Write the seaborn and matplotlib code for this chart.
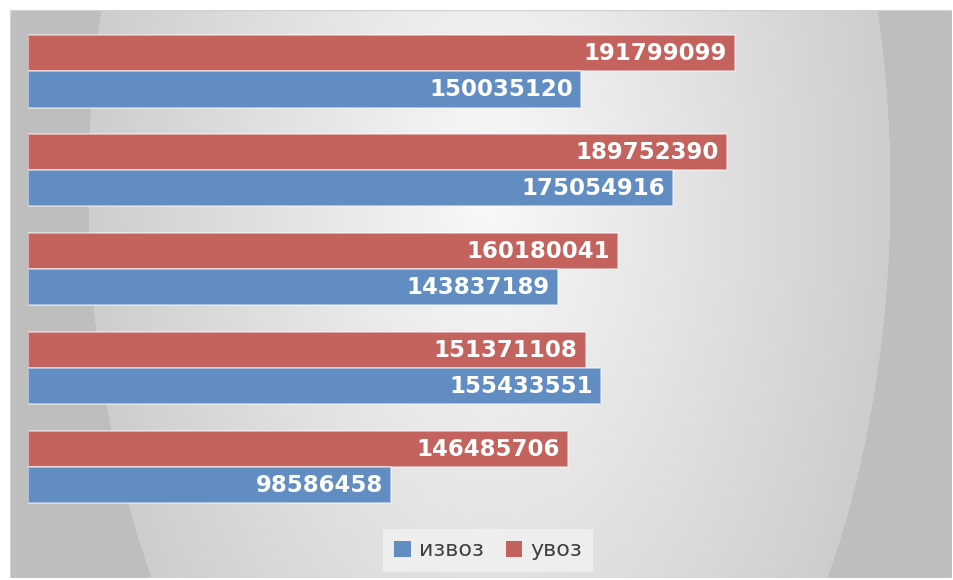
import numpy as np
import pandas as pd
import matplotlib
matplotlib.use("Agg")
import matplotlib.pyplot as plt
from matplotlib.patches import Patch, Rectangle
import seaborn as sns

# ---- data ----
categories = ["1", "2", "3", "4", "5"]
izvoz = [150035120, 175054916, 143837189, 155433551, 98586458]
uvoz = [191799099, 189752390, 160180041, 151371108, 146485706]
series_names = ["извоз", "увоз"]

df = pd.DataFrame({
    "cat": categories * 2,
    "value": izvoz + uvoz,
    "series": [series_names[0]] * len(categories) + [series_names[1]] * len(categories),
})

sns.set_theme(style="white")
plt.rcParams["font.family"] = ["DejaVu Sans"]

W, H = 954, 580
fig = plt.figure(figsize=(W / 100, H / 100), dpi=100, facecolor="white")

# ---- background panel with radial gradient ----
bx0, by0, bx1, by1 = 10, 10, 952, 578
bg = fig.add_axes([bx0 / W, 1 - by1 / H, (bx1 - bx0) / W, (by1 - by0) / H], zorder=-5)
nx, ny = bx1 - bx0, by1 - by0
xx, yy = np.meshgrid(np.arange(nx) + bx0, np.arange(ny) + by0)
cx, cy, a, b = 489, 190, 401, 720
d = np.sqrt(((xx - cx) / a) ** 2 + ((yy - cy) / b) ** 2)
v = np.where(d <= 1, 0.975 - 0.17 * d, 0.747)
img = np.dstack([v, v, v])
bg.imshow(img, aspect="auto", interpolation="bilinear")
bg.set_axis_off()
bg.add_patch(Rectangle((0, 0), 1, 1, transform=bg.transAxes, fill=False,
                       edgecolor="#d0d0d0", linewidth=1.0))

# ---- bars ----
left_px, right_px = 28, 949.5
top_px, bot_px = 22, 516.5
ax = fig.add_axes([left_px / W, 1 - bot_px / H, (right_px - left_px) / W, (bot_px - top_px) / H])
ax.patch.set_alpha(0)

colors = {"извоз": "#628DC2", "увоз": "#C4625E"}
sns.barplot(data=df, x="value", y="cat", hue="series", hue_order=["увоз", "извоз"],
            order=categories, palette=colors, width=0.73, ax=ax, legend=False,
            edgecolor=(1, 1, 1, 0.55), linewidth=1.2, saturation=1)

ax.set_xlim(0, 250e6)
ax.set_ylim(len(categories) - 0.5, -0.5)
for c in ax.containers:
    texts = ax.bar_label(c, labels=[f"{int(p.get_width())}" for p in c.patches],
                         padding=-6, color="white", fontsize=16.5, fontweight="bold")
    for t in texts:
        t.set_ha("right")

ax.set_axis_off()

# ---- legend ----
handles = [Patch(facecolor=colors[s], edgecolor="none", label=s) for s in series_names]
leg = fig.legend(handles=handles, loc="center", bbox_to_anchor=(488 / W, 1 - 550.5 / H),
                 ncol=2, frameon=True, fontsize=16, handlelength=0.75, handleheight=0.75,
                 handletextpad=0.35, columnspacing=1.0, borderpad=0.5, fancybox=False)
leg.get_frame().set_facecolor((0.95, 0.95, 0.95, 0.75))
leg.get_frame().set_edgecolor("none")
for t in leg.get_texts():
    t.set_color("#404040")

fig.savefig("out.png", dpi=100, facecolor="white")
